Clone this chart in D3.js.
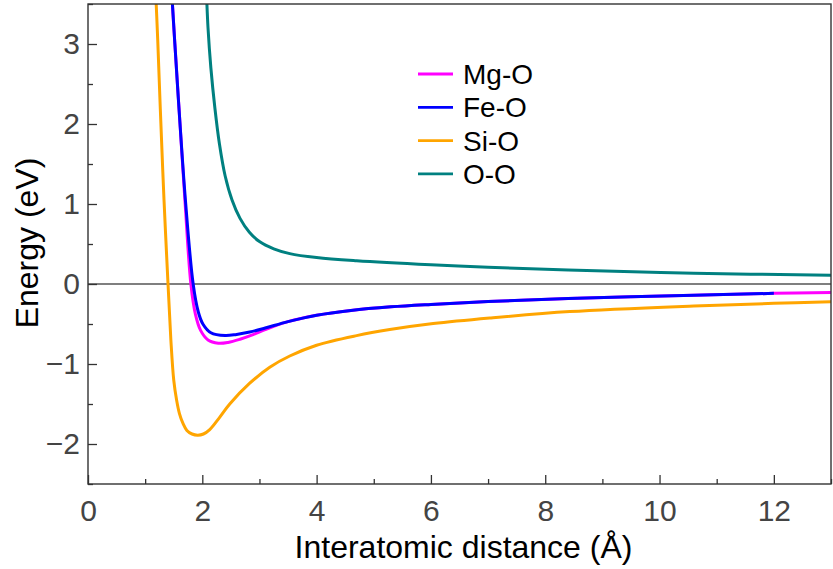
<!DOCTYPE html>
<html>
<head>
<meta charset="utf-8">
<script src="https://cdn.jsdelivr.net/npm/d3@7"></script>
<style>
  html, body { margin: 0; padding: 0; background: #fff; }
  svg { display: block; font-family: "Liberation Sans", Arial, sans-serif; }
</style>
</head>
<body>
<svg id="chart" width="833" height="569"></svg>
<script>
// ---- data ----
const seriesNames = ["Mg-O", "Fe-O", "Si-O", "O-O"];
const seriesColors = ["#ff00ff", "#0000ff", "#ffa500", "#008080"];

const mgoX = [1.46, 1.52, 1.61, 1.70, 1.80, 1.88, 1.97, 2.10, 2.28, 2.45, 2.66, 2.90, 3.10, 3.50, 4.00, 4.60, 5.30, 6.00, 7.00, 8.40, 10.60, 12.00, 13.00];
const mgoY = [3.70, 3.00, 2.00, 1.00, 0.00, -0.38, -0.58, -0.70, -0.74, -0.73, -0.69, -0.63, -0.57, -0.47, -0.39, -0.33, -0.285, -0.255, -0.22, -0.18, -0.14, -0.117, -0.105];

const feoX = [1.46, 1.52, 1.61, 1.71, 1.84, 1.93, 2.01, 2.15, 2.40, 2.60, 2.83, 3.10, 3.50, 4.00, 4.60, 5.30, 6.00, 7.00, 8.40, 10.60, 12.00];
const feoY = [3.70, 3.00, 2.00, 1.00, 0.00, -0.35, -0.50, -0.61, -0.645, -0.63, -0.60, -0.55, -0.47, -0.39, -0.33, -0.285, -0.255, -0.22, -0.18, -0.14, -0.117];

const sioX = [1.175, 1.22, 1.27, 1.33, 1.40, 1.45, 1.50, 1.55, 1.60, 1.66, 1.73, 1.82, 1.92, 2.02, 2.13, 2.30, 2.48, 2.83, 3.18, 3.53, 4.00, 4.70, 5.28, 6.04, 7.03, 8.43, 10.60, 12.00, 13.00];
const sioY = [3.80, 3.05, 2.10, 1.05, 0.00, -0.70, -1.20, -1.45, -1.62, -1.74, -1.83, -1.875, -1.89, -1.875, -1.82, -1.67, -1.50, -1.24, -1.04, -0.90, -0.765, -0.645, -0.57, -0.495, -0.425, -0.345, -0.275, -0.242, -0.222];

const ooX = [2.07, 2.10, 2.15, 2.22, 2.30, 2.40, 2.52, 2.66, 2.82, 3.00, 3.25, 3.53, 4.00, 4.70, 6.00, 7.00, 8.40, 10.60, 13.00];
const ooY = [3.70, 3.20, 2.70, 2.20, 1.75, 1.35, 1.05, 0.82, 0.65, 0.53, 0.44, 0.38, 0.33, 0.29, 0.24, 0.21, 0.175, 0.135, 0.11];

const xMajorTicks = [0, 2, 4, 6, 8, 10, 12];
const xMinorTicks = [1, 3, 5, 7, 9, 11, 13];
const yMajorTicks = [-2, -1, 0, 1, 2, 3];
const yMinorTicks = [-2.5, -1.5, -0.5, 0.5, 1.5, 2.5, 3.5];
const xTitle = "Interatomic distance (Å)";
const yTitle = "Energy (eV)";

// ---- layout ----
const svg = d3.select("#chart");
const L = 88, R = 831, T = 4, B = 484;
const x = d3.scaleLinear().domain([0, 13]).range([L, R]);
const y = d3.scaleLinear().domain([-2.5, 3.5]).range([B, T]);

const series = [
  { xs: mgoX, ys: mgoY },
  { xs: feoX, ys: feoY },
  { xs: sioX, ys: sioY },
  { xs: ooX, ys: ooY }
].map((s, i) => ({
  name: seriesNames[i],
  color: seriesColors[i],
  pts: s.xs.map((v, j) => [v, s.ys[j]])
}));

svg.append("defs").append("clipPath").attr("id", "clip")
  .append("rect").attr("x", L).attr("y", T).attr("width", R - L).attr("height", B - T);

// zero line
svg.append("line")
  .attr("x1", x(0)).attr("x2", x(13)).attr("y1", y(0)).attr("y2", y(0))
  .attr("stroke", "#000").attr("stroke-width", 1.2);

// curves
const line = d3.line().x(d => x(d[0])).y(d => y(d[1])).curve(d3.curveCatmullRom.alpha(0.5));
const g = svg.append("g").attr("clip-path", "url(#clip)");
series.forEach(s => {
  g.append("path").attr("d", line(s.pts))
    .attr("fill", "none").attr("stroke", s.color).attr("stroke-width", 3)
    .attr("stroke-linejoin", "round");
});

// axes
const tickColor = "#333";
const labelColor = "#444";
const xAxis = d3.axisBottom(x).tickValues(xMajorTicks).tickSizeInner(-9).tickSizeOuter(0).tickPadding(16).tickFormat(d3.format("d"));
const yAxis = d3.axisLeft(y).tickValues(yMajorTicks).tickSizeInner(-9).tickSizeOuter(0).tickPadding(8)
  .tickFormat(d => d < 0 ? "\u2212" + Math.abs(d) : String(d));

const gx = svg.append("g").attr("transform", `translate(0,${B})`).call(xAxis);
const gy = svg.append("g").attr("transform", `translate(${L},0)`).call(yAxis);
[gx, gy].forEach(a => {
  a.select(".domain").remove();
  a.selectAll(".tick line").attr("stroke", tickColor).attr("stroke-width", 1.3);
  a.selectAll(".tick text").attr("fill", labelColor).style("font-size", "30px").style("font-family", "Liberation Sans, Arial, sans-serif");
});

svg.append("g").attr("transform", `translate(0,${B})`)
  .call(d3.axisBottom(x).tickValues(xMinorTicks).tickSizeInner(-5).tickSizeOuter(0).tickFormat(""))
  .call(a => { a.select(".domain").remove(); a.selectAll("line").attr("stroke", tickColor).attr("stroke-width", 1.3); });
svg.append("g").attr("transform", `translate(${L},0)`)
  .call(d3.axisLeft(y).tickValues(yMinorTicks).tickSizeInner(-5).tickSizeOuter(0).tickFormat(""))
  .call(a => { a.select(".domain").remove(); a.selectAll("line").attr("stroke", tickColor).attr("stroke-width", 1.3); });

// frame
svg.append("rect").attr("x", L).attr("y", T).attr("width", R - L).attr("height", B - T)
  .attr("fill", "none").attr("stroke", tickColor).attr("stroke-width", 1.4);

// titles
svg.append("text").attr("x", (L + R) / 2 + 4).attr("y", 558)
  .attr("text-anchor", "middle").attr("fill", "#000").style("font-size", "32px").text(xTitle);
svg.append("text").attr("transform", `translate(38,243) rotate(-90)`)
  .attr("text-anchor", "middle").attr("fill", "#000").style("font-size", "32px").text(yTitle);

// legend
const leg = svg.append("g").attr("transform", "translate(418,74)");
series.forEach((s, i) => {
  const row = leg.append("g").attr("transform", `translate(0,${i * 33.3})`);
  row.append("line").attr("x1", 0).attr("x2", 35).attr("y1", 0).attr("y2", 0)
    .attr("stroke", s.color).attr("stroke-width", 2.8);
  row.append("text").attr("x", 45).attr("y", 10).attr("fill", "#000")
    .style("font-size", "28px").text(s.name);
});
</script>
</body>
</html>
